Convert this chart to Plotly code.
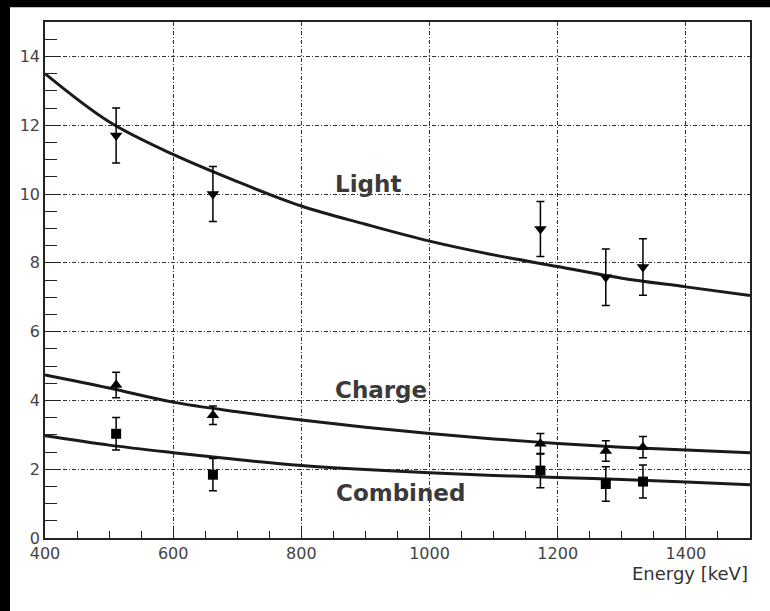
import plotly.graph_objects as go

# Measured points (gamma lines, keV)
energies = [511, 662, 1173, 1275, 1333]

light_vals = [11.7, 10.0, 8.98, 7.58, 7.88]
light_err = [0.8, 0.8, 0.8, 0.82, 0.82]

charge_vals = [4.45, 3.57, 2.74, 2.53, 2.64]
charge_err = [0.37, 0.27, 0.3, 0.3, 0.31]

combined_vals = [3.03, 1.84, 1.96, 1.57, 1.64]
combined_err = [0.47, 0.47, 0.5, 0.5, 0.48]

# Fit curves
curve_e = [400, 500, 600, 700, 800, 900, 1000, 1100, 1200, 1300, 1400, 1500]
light_curve = [13.5, 12.1, 11.15, 10.36, 9.65, 9.12, 8.63, 8.23, 7.89, 7.55, 7.3, 7.05]
charge_curve = [4.74, 4.36, 3.95, 3.67, 3.43, 3.22, 3.04, 2.88, 2.75, 2.64, 2.56, 2.48]
combined_curve = [2.97, 2.7, 2.48, 2.28, 2.11, 1.99, 1.9, 1.82, 1.76, 1.7, 1.63, 1.55]

x_ticks = [400, 600, 800, 1000, 1200, 1400]
y_ticks = [0, 2, 4, 6, 8, 10, 12, 14]

labels = ["Light", "Charge", "Combined"]
label_x = [904, 924, 955]
label_y = [10.3, 4.29, 1.31]

fig = go.Figure()

for cv in [light_curve, charge_curve, combined_curve]:
    fig.add_trace(go.Scatter(x=curve_e, y=cv, mode="lines",
                             line=dict(color="#1a1a1a", width=3, shape="spline"),
                             showlegend=False, hoverinfo="skip"))

for vals, errs, sym, sz in [(light_vals, light_err, "triangle-down", 11),
                            (charge_vals, charge_err, "triangle-up", 11),
                            (combined_vals, combined_err, "square", 10)]:
    fig.add_trace(go.Scatter(x=energies, y=vals, mode="markers",
                             marker=dict(symbol=sym, size=sz, color="black"),
                             error_y=dict(type="data", array=errs, visible=True,
                                          color="black", thickness=1.5, width=4),
                             showlegend=False))

for t, lx, ly in zip(labels, label_x, label_y):
    fig.add_annotation(x=lx, y=ly, xref="x", yref="y", text="<b>" + t + "</b>",
                       showarrow=False, xanchor="center", yanchor="middle",
                       font=dict(family="DejaVu Sans", size=23, color="#3a3a3a"))

fig.add_annotation(x=1, y=-0.044, xref="paper", yref="paper", text="Energy [keV]",
                   showarrow=False, xanchor="right", yanchor="top",
                   font=dict(family="DejaVu Sans", size=18, color="#333"))

# black border strip (top and left), white page
fig.add_shape(type="rect", xref="paper", yref="paper", layer="below",
              x0=(10 - 45) / 705, x1=(775 - 45) / 705,
              y0=(538 - 620) / 516.3, y1=(538 - 7) / 516.3,
              fillcolor="white", line=dict(width=0))

axis_common = dict(showline=True, linecolor="#222", linewidth=1.5, mirror=True,
                   showgrid=True, gridcolor="#333", gridwidth=1,
                   griddash="4px,2px,1px,2px", zeroline=False,
                   ticks="inside", tickcolor="#222", tickwidth=1,
                   tickfont=dict(family="DejaVu Sans", size=16, color="#444"))

fig.update_xaxes(range=[400, 1500], tickvals=x_ticks, ticklen=12,
                 minor=dict(ticks="inside", dtick=50, ticklen=7, tickcolor="#222", showgrid=False),
                 **axis_common)
fig.update_yaxes(range=[0, 15], tickvals=y_ticks, ticklen=15,
                 minor=dict(ticks="inside", dtick=0.5, ticklen=12, tickcolor="#222", showgrid=False),
                 **axis_common)

fig.update_layout(width=770, height=611, paper_bgcolor="black", plot_bgcolor="white",
                  margin=dict(l=45, r=20, t=22, b=73), showlegend=False)

fig.write_html("out.html", config={"displayModeBar": False},
               post_script="document.body.style.margin='0';document.body.style.background='white';")
